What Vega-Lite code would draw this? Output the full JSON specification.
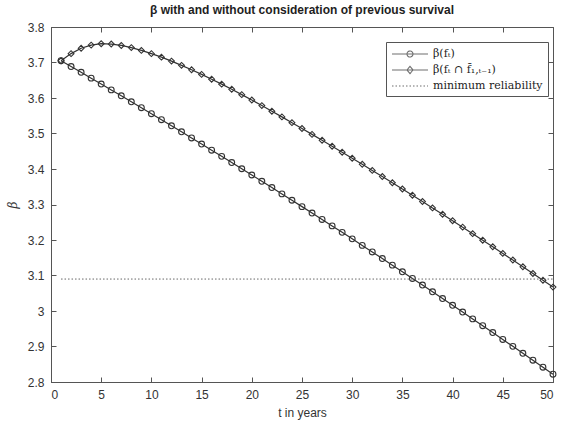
{
  "$schema": "https://vega.github.io/schema/vega-lite/v6.json",
  "width": 502,
  "height": 355,
  "autosize": "none",
  "padding": {"left": 51, "top": 27, "right": 8, "bottom": 44},
  "background": "white",
  "title": {
    "text": "β with and without consideration of previous survival",
    "font": "Liberation Sans",
    "fontSize": 12,
    "fontWeight": "bold",
    "color": "#1e1e1e",
    "anchor": "middle",
    "offset": 4
  },
  "config": {
    "view": {"stroke": "#555555", "strokeWidth": 1},
    "axis": {
      "grid": false,
      "domainColor": "#555555",
      "tickColor": "#555555",
      "tickSize": -5,
      "labelFont": "Liberation Sans",
      "labelFontSize": 12,
      "labelColor": "#333333",
      "titleFont": "Liberation Sans",
      "titleFontSize": 12,
      "titleFontWeight": "normal",
      "titleColor": "#333333"
    }
  },
  "datasets": {
    "curves": [
      {"t": 1, "series": "β(fₜ)", "beta": 3.705},
      {"t": 2, "series": "β(fₜ)", "beta": 3.6887},
      {"t": 3, "series": "β(fₜ)", "beta": 3.6723},
      {"t": 4, "series": "β(fₜ)", "beta": 3.6559},
      {"t": 5, "series": "β(fₜ)", "beta": 3.6394},
      {"t": 6, "series": "β(fₜ)", "beta": 3.6228},
      {"t": 7, "series": "β(fₜ)", "beta": 3.6061},
      {"t": 8, "series": "β(fₜ)", "beta": 3.5894},
      {"t": 9, "series": "β(fₜ)", "beta": 3.5726},
      {"t": 10, "series": "β(fₜ)", "beta": 3.5557},
      {"t": 11, "series": "β(fₜ)", "beta": 3.5388},
      {"t": 12, "series": "β(fₜ)", "beta": 3.5218},
      {"t": 13, "series": "β(fₜ)", "beta": 3.5047},
      {"t": 14, "series": "β(fₜ)", "beta": 3.4875},
      {"t": 15, "series": "β(fₜ)", "beta": 3.4703},
      {"t": 16, "series": "β(fₜ)", "beta": 3.453},
      {"t": 17, "series": "β(fₜ)", "beta": 3.4356},
      {"t": 18, "series": "β(fₜ)", "beta": 3.4182},
      {"t": 19, "series": "β(fₜ)", "beta": 3.4007},
      {"t": 20, "series": "β(fₜ)", "beta": 3.3831},
      {"t": 21, "series": "β(fₜ)", "beta": 3.3654},
      {"t": 22, "series": "β(fₜ)", "beta": 3.3477},
      {"t": 23, "series": "β(fₜ)", "beta": 3.3299},
      {"t": 24, "series": "β(fₜ)", "beta": 3.312},
      {"t": 25, "series": "β(fₜ)", "beta": 3.294},
      {"t": 26, "series": "β(fₜ)", "beta": 3.276},
      {"t": 27, "series": "β(fₜ)", "beta": 3.2579},
      {"t": 28, "series": "β(fₜ)", "beta": 3.2397},
      {"t": 29, "series": "β(fₜ)", "beta": 3.2215},
      {"t": 30, "series": "β(fₜ)", "beta": 3.2032},
      {"t": 31, "series": "β(fₜ)", "beta": 3.1848},
      {"t": 32, "series": "β(fₜ)", "beta": 3.1663},
      {"t": 33, "series": "β(fₜ)", "beta": 3.1478},
      {"t": 34, "series": "β(fₜ)", "beta": 3.1292},
      {"t": 35, "series": "β(fₜ)", "beta": 3.1105},
      {"t": 36, "series": "β(fₜ)", "beta": 3.0918},
      {"t": 37, "series": "β(fₜ)", "beta": 3.073},
      {"t": 38, "series": "β(fₜ)", "beta": 3.0541},
      {"t": 39, "series": "β(fₜ)", "beta": 3.0351},
      {"t": 40, "series": "β(fₜ)", "beta": 3.0161},
      {"t": 41, "series": "β(fₜ)", "beta": 2.997},
      {"t": 42, "series": "β(fₜ)", "beta": 2.9778},
      {"t": 43, "series": "β(fₜ)", "beta": 2.9586},
      {"t": 44, "series": "β(fₜ)", "beta": 2.9393},
      {"t": 45, "series": "β(fₜ)", "beta": 2.9199},
      {"t": 46, "series": "β(fₜ)", "beta": 2.9004},
      {"t": 47, "series": "β(fₜ)", "beta": 2.8809},
      {"t": 48, "series": "β(fₜ)", "beta": 2.8613},
      {"t": 49, "series": "β(fₜ)", "beta": 2.8416},
      {"t": 50, "series": "β(fₜ)", "beta": 2.8219},
      {"t": 1, "series": "β(fₜ ∩ f̄₁,ₜ₋₁)", "beta": 3.705},
      {"t": 2, "series": "β(fₜ ∩ f̄₁,ₜ₋₁)", "beta": 3.725},
      {"t": 3, "series": "β(fₜ ∩ f̄₁,ₜ₋₁)", "beta": 3.74},
      {"t": 4, "series": "β(fₜ ∩ f̄₁,ₜ₋₁)", "beta": 3.749},
      {"t": 5, "series": "β(fₜ ∩ f̄₁,ₜ₋₁)", "beta": 3.753},
      {"t": 6, "series": "β(fₜ ∩ f̄₁,ₜ₋₁)", "beta": 3.752},
      {"t": 7, "series": "β(fₜ ∩ f̄₁,ₜ₋₁)", "beta": 3.748},
      {"t": 8, "series": "β(fₜ ∩ f̄₁,ₜ₋₁)", "beta": 3.742},
      {"t": 9, "series": "β(fₜ ∩ f̄₁,ₜ₋₁)", "beta": 3.734},
      {"t": 10, "series": "β(fₜ ∩ f̄₁,ₜ₋₁)", "beta": 3.725},
      {"t": 11, "series": "β(fₜ ∩ f̄₁,ₜ₋₁)", "beta": 3.715},
      {"t": 12, "series": "β(fₜ ∩ f̄₁,ₜ₋₁)", "beta": 3.704},
      {"t": 13, "series": "β(fₜ ∩ f̄₁,ₜ₋₁)", "beta": 3.692},
      {"t": 14, "series": "β(fₜ ∩ f̄₁,ₜ₋₁)", "beta": 3.6795},
      {"t": 15, "series": "β(fₜ ∩ f̄₁,ₜ₋₁)", "beta": 3.6665},
      {"t": 16, "series": "β(fₜ ∩ f̄₁,ₜ₋₁)", "beta": 3.653},
      {"t": 17, "series": "β(fₜ ∩ f̄₁,ₜ₋₁)", "beta": 3.639},
      {"t": 18, "series": "β(fₜ ∩ f̄₁,ₜ₋₁)", "beta": 3.6245},
      {"t": 19, "series": "β(fₜ ∩ f̄₁,ₜ₋₁)", "beta": 3.6095},
      {"t": 20, "series": "β(fₜ ∩ f̄₁,ₜ₋₁)", "beta": 3.5942},
      {"t": 21, "series": "β(fₜ ∩ f̄₁,ₜ₋₁)", "beta": 3.5786},
      {"t": 22, "series": "β(fₜ ∩ f̄₁,ₜ₋₁)", "beta": 3.5627},
      {"t": 23, "series": "β(fₜ ∩ f̄₁,ₜ₋₁)", "beta": 3.5468},
      {"t": 24, "series": "β(fₜ ∩ f̄₁,ₜ₋₁)", "beta": 3.5305},
      {"t": 25, "series": "β(fₜ ∩ f̄₁,ₜ₋₁)", "beta": 3.5141},
      {"t": 26, "series": "β(fₜ ∩ f̄₁,ₜ₋₁)", "beta": 3.4975},
      {"t": 27, "series": "β(fₜ ∩ f̄₁,ₜ₋₁)", "beta": 3.4809},
      {"t": 28, "series": "β(fₜ ∩ f̄₁,ₜ₋₁)", "beta": 3.4641},
      {"t": 29, "series": "β(fₜ ∩ f̄₁,ₜ₋₁)", "beta": 3.4473},
      {"t": 30, "series": "β(fₜ ∩ f̄₁,ₜ₋₁)", "beta": 3.4303},
      {"t": 31, "series": "β(fₜ ∩ f̄₁,ₜ₋₁)", "beta": 3.4132},
      {"t": 32, "series": "β(fₜ ∩ f̄₁,ₜ₋₁)", "beta": 3.396},
      {"t": 33, "series": "β(fₜ ∩ f̄₁,ₜ₋₁)", "beta": 3.3787},
      {"t": 34, "series": "β(fₜ ∩ f̄₁,ₜ₋₁)", "beta": 3.3612},
      {"t": 35, "series": "β(fₜ ∩ f̄₁,ₜ₋₁)", "beta": 3.3437},
      {"t": 36, "series": "β(fₜ ∩ f̄₁,ₜ₋₁)", "beta": 3.3261},
      {"t": 37, "series": "β(fₜ ∩ f̄₁,ₜ₋₁)", "beta": 3.3083},
      {"t": 38, "series": "β(fₜ ∩ f̄₁,ₜ₋₁)", "beta": 3.2904},
      {"t": 39, "series": "β(fₜ ∩ f̄₁,ₜ₋₁)", "beta": 3.2724},
      {"t": 40, "series": "β(fₜ ∩ f̄₁,ₜ₋₁)", "beta": 3.2544},
      {"t": 41, "series": "β(fₜ ∩ f̄₁,ₜ₋₁)", "beta": 3.2362},
      {"t": 42, "series": "β(fₜ ∩ f̄₁,ₜ₋₁)", "beta": 3.2178},
      {"t": 43, "series": "β(fₜ ∩ f̄₁,ₜ₋₁)", "beta": 3.1994},
      {"t": 44, "series": "β(fₜ ∩ f̄₁,ₜ₋₁)", "beta": 3.1809},
      {"t": 45, "series": "β(fₜ ∩ f̄₁,ₜ₋₁)", "beta": 3.1622},
      {"t": 46, "series": "β(fₜ ∩ f̄₁,ₜ₋₁)", "beta": 3.1435},
      {"t": 47, "series": "β(fₜ ∩ f̄₁,ₜ₋₁)", "beta": 3.1246},
      {"t": 48, "series": "β(fₜ ∩ f̄₁,ₜ₋₁)", "beta": 3.1056},
      {"t": 49, "series": "β(fₜ ∩ f̄₁,ₜ₋₁)", "beta": 3.0865},
      {"t": 50, "series": "β(fₜ ∩ f̄₁,ₜ₋₁)", "beta": 3.0673}
    ],
    "threshold": [
      {"t": 1, "beta": 3.09},
      {"t": 50, "beta": 3.09}
    ]
  },
  "layer": [
    {
      "data": {"name": "curves"},
      "mark": {"type": "line", "stroke": "#333333", "strokeWidth": 1.2},
      "encoding": {
        "x": {
          "field": "t", "type": "quantitative",
          "scale": {"domain": [0, 50], "nice": false, "zero": false},
          "axis": {"orient": "bottom", "values": [0, 5, 10, 15, 20, 25, 30, 35, 40, 45, 50], "labelPadding": 12, "title": "t in years", "titlePadding": 7}
        },
        "y": {
          "field": "beta", "type": "quantitative",
          "scale": {"domain": [2.8, 3.8], "nice": false, "zero": false},
          "axis": {"orient": "left", "values": [2.8, 2.9, 3, 3.1, 3.2, 3.3, 3.4, 3.5, 3.6, 3.7, 3.8], "format": "~g", "labelPadding": 12, "title": "β", "titleFont": "DejaVu Serif", "titleFontStyle": "italic", "titleFontSize": 12, "titlePadding": 8}
        },
        "detail": {"field": "series"}
      }
    },
    {
      "data": {"name": "curves"},
      "mark": {"type": "point", "filled": false, "stroke": "#333333", "strokeWidth": 1.1, "size": 34, "opacity": 1},
      "encoding": {
        "x": {
          "field": "t", "type": "quantitative",
          "axis": {"orient": "top", "values": [0, 5, 10, 15, 20, 25, 30, 35, 40, 45, 50], "labels": false, "title": null, "domain": false}
        },
        "y": {
          "field": "beta", "type": "quantitative",
          "axis": {"orient": "right", "values": [2.8, 2.9, 3, 3.1, 3.2, 3.3, 3.4, 3.5, 3.6, 3.7, 3.8], "labels": false, "title": null, "domain": false}
        },
        "shape": {
          "field": "series", "type": "nominal",
          "scale": {"domain": ["β(fₜ)", "β(fₜ ∩ f̄₁,ₜ₋₁)"], "range": ["circle", "diamond"]},
          "legend": null
        }
      }
    },
    {
      "data": {"name": "threshold"},
      "mark": {"type": "line", "stroke": "#666666", "strokeWidth": 1, "strokeDash": [1.5, 2]},
      "encoding": {
        "x": {"field": "t", "type": "quantitative", "axis": null},
        "y": {"field": "beta", "type": "quantitative", "axis": null}
      }
    },
    {
      "data": {"values": []},
      "mark": {"type": "point", "filled": false, "stroke": "#333333", "strokeWidth": 1},
      "encoding": {
        "shape": {
          "field": "series", "type": "nominal",
          "scale": {
            "domain": ["β(fₜ)", "β(fₜ ∩ f̄₁,ₜ₋₁)", "minimum reliability"],
            "range": [
              "M-1,0H5M2.5,0A0.5,0.5,0,1,1,1.5,0A0.5,0.5,0,1,1,2.5,0",
              "M-1,0H5M1.5,0L2,-0.6L2.5,0L2,0.6Z",
              "M-1,0H5"
            ]
          },
          "legend": {
            "orient": "none", "legendX": 335, "legendY": 15,
            "title": null,
            "symbolSize": 144,
            "symbolStrokeWidth": 1.1,
            "symbolStrokeColor": "#333333",
            "labelOffset": 28,
            "labelFont": "DejaVu Serif",
            "labelFontSize": 11,
            "labelColor": "#222222",
            "strokeColor": "#555555",
            "fillColor": "white",
            "padding": 5,
            "rowPadding": 3
          }
        },
        "strokeDash": {
          "field": "series", "type": "nominal",
          "scale": {
            "domain": ["β(fₜ)", "β(fₜ ∩ f̄₁,ₜ₋₁)", "minimum reliability"],
            "range": [[1, 0], [1, 0], [1.5, 2]]
          },
          "legend": {"orient": "none", "legendX": 335, "legendY": 15, "title": null}
        }
      }
    }
  ],
  "resolve": {
    "scale": {"shape": "independent", "strokeDash": "independent"},
    "axis": {"x": "independent", "y": "independent"}
  }
}
